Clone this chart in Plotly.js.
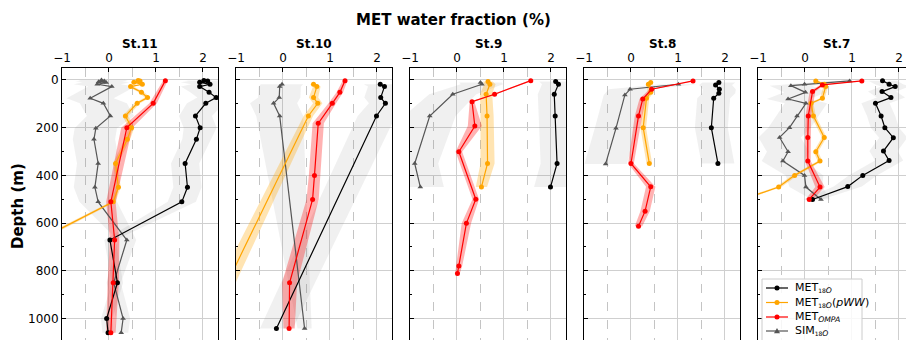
<!DOCTYPE html>
<html>
<head>
<meta charset="utf-8">
<script src="https://cdn.plot.ly/plotly-3.0.1.min.js"></script>
<style>
html,body{margin:0;padding:0;background:#fff;overflow:hidden;}
#chart{width:922px;height:350px;}
</style>
</head>
<body>
<div id="chart"></div>
<script>
// ---------- Data (depth in m, MET water fraction, envelope half-width) ----------
const stations = ["St.11", "St.10", "St.9", "St.8", "St.7"];

// St.11
const S11_MET_z = [2, 5, 10, 18, 28, 52, 74, 98, 151, 200, 249, 350, 450, 511, 671, 850, 1000, 1059];
const S11_MET_x = [2.02, 2.1, 1.93, 2.15, 1.93, 2.13, 2.28, 2.06, 1.84, 1.94, 1.86, 1.62, 1.67, 1.55, 0.02, 0.18, -0.05, -0.02];
const S11_MET_e = [0.4, 0.4, 0.4, 0.4, 0.4, 0.4, 0.4, 0.4, 0.35, 0.35, 0.3, 0.3, 0.3, 0.3, 0.12, 0.12, 0.12, 0.12];
const S11_PWW_z = [2, 5, 10, 18, 28, 52, 74, 98, 151, 200, 249, 350, 450, 511, 671];
const S11_PWW_x = [0.62, 0.66, 0.53, 0.71, 0.46, 0.69, 0.82, 0.6, 0.35, 0.48, 0.39, 0.14, 0.2, 0.09, -1.5];
const S11_PWW_e = [0.06, 0.06, 0.06, 0.06, 0.06, 0.06, 0.06, 0.06, 0.06, 0.06, 0.06, 0.05, 0.05, 0.05, 0.08];
const S11_OMP_z = [3, 98, 200, 511, 671, 850, 1059];
const S11_OMP_x = [1.2, 0.94, 0.38, 0.04, 0.12, 0.09, 0.04];
const S11_OMP_e = [0.05, 0.08, 0.12, 0.1, 0.1, 0.12, 0.1];
const S11_SIM_z = [0, 5, 8, 11, 18, 28, 77, 98, 151, 203, 249, 350, 450, 511, 671, 850, 1000, 1059];
const S11_SIM_x = [-0.16, -0.1, -0.22, -0.06, -0.25, 0.06, -0.4, -0.12, 0.03, -0.28, -0.32, -0.23, -0.3, -0.23, 0.38, 0.1, 0.3, 0.26];
const S11_SIM_e = [0.5, 0.5, 0.5, 0.5, 0.5, 0.5, 0.5, 0.5, 0.5, 0.45, 0.45, 0.45, 0.45, 0.4, 0.2, 0.15, 0.15, 0.15];

// St.10
const S10_MET_z = [18, 28, 74, 98, 151, 1042];
const S10_MET_x = [2.07, 2.16, 2.08, 2.18, 1.99, -0.14];
const S10_MET_e = [0.35, 0.35, 0.35, 0.35, 0.4, 0.35];
const S10_PWW_z = [18, 28, 74, 98, 151, 1042];
const S10_PWW_x = [0.65, 0.72, 0.65, 0.74, 0.54, -1.66];
const S10_PWW_e = [0.08, 0.08, 0.1, 0.1, 0.1, 0.2];
const S10_OMP_z = [3, 52, 98, 182, 400, 501, 850, 1042];
const S10_OMP_x = [1.32, 1.21, 1.05, 0.75, 0.67, 0.63, 0.14, 0.13];
const S10_OMP_e = [0.05, 0.07, 0.08, 0.12, 0.12, 0.13, 0.16, 0.12];
const S10_SIM_z = [18, 28, 74, 98, 151, 1042];
const S10_SIM_x = [-0.02, -0.07, -0.08, -0.2, -0.07, 0.46];
const S10_SIM_e = [0.45, 0.45, 0.45, 0.5, 0.5, 0.15];

// St.9
const S9_MET_z = [7, 18, 60, 151, 350, 449];
const S9_MET_x = [2.1, 2.16, 2.07, 2.09, 2.13, 1.99];
const S9_MET_e = [0.35, 0.35, 0.35, 0.35, 0.35, 0.35];
const S9_PWW_z = [7, 18, 60, 151, 350, 449];
const S9_PWW_x = [0.66, 0.7, 0.62, 0.64, 0.65, 0.52];
const S9_PWW_e = [0.1, 0.12, 0.13, 0.14, 0.15, 0.12];
const S9_OMP_z = [3, 60, 91, 193, 301, 500, 601, 780, 811];
const S9_OMP_x = [1.57, 0.8, 0.32, 0.38, 0.04, 0.4, 0.2, 0.04, 0.01];
const S9_OMP_e = [0.03, 0.04, 0.05, 0.15, 0.07, 0.07, 0.1, 0.07, 0.05];
const S9_SIM_z = [11, 18, 60, 151, 350, 449];
const S9_SIM_x = [0.5, 0.53, -0.09, -0.58, -0.9, -0.78];
const S9_SIM_e = [0.45, 0.45, 0.5, 0.55, 0.5, 0.5];

// St.8
const S8_MET_z = [11, 21, 39, 56, 77, 200, 350];
const S8_MET_x = [1.87, 1.8, 1.88, 1.87, 1.76, 1.71, 1.85];
const S8_MET_e = [0.35, 0.35, 0.35, 0.35, 0.35, 0.35, 0.35];
const S8_PWW_z = [11, 18, 52, 77, 200, 350];
const S8_PWW_x = [0.42, 0.37, 0.42, 0.33, 0.26, 0.39];
const S8_PWW_e = [0.05, 0.05, 0.06, 0.06, 0.06, 0.06];
const S8_OMP_z = [4, 39, 80, 151, 350, 448, 550, 613];
const S8_OMP_x = [1.32, 0.44, 0.25, 0.16, 0.0, 0.42, 0.3, 0.16];
const S8_OMP_e = [0.03, 0.05, 0.07, 0.08, 0.06, 0.1, 0.1, 0.08];
const S8_SIM_z = [18, 39, 63, 203, 352];
const S8_SIM_x = [1.01, -0.02, -0.13, -0.32, -0.54];
const S8_SIM_e = [0.4, 0.45, 0.45, 0.45, 0.45];

// St.7
const S7_MET_z = [3, 18, 28, 49, 74, 98, 151, 200, 242, 298, 338, 400, 447, 501];
const S7_MET_x = [1.65, 1.79, 1.92, 1.64, 1.83, 1.5, 1.62, 1.7, 1.88, 1.67, 1.79, 1.23, 0.91, 0.16];
const S7_MET_e = [0.3, 0.3, 0.3, 0.3, 0.3, 0.3, 0.3, 0.3, 0.3, 0.3, 0.3, 0.3, 0.3, 0.2];
const S7_PWW_z = [4, 18, 28, 77, 98, 151, 241, 301, 340, 400, 449, 501];
const S7_PWW_x = [0.23, 0.41, 0.44, 0.37, 0.13, 0.18, 0.41, 0.23, 0.32, -0.22, -0.56, -1.33];
const S7_PWW_e = [0.05, 0.05, 0.05, 0.05, 0.05, 0.05, 0.05, 0.05, 0.05, 0.06, 0.06, 0.07];
const S7_OMP_z = [4, 21, 49, 151, 241, 340, 449, 501];
const S7_OMP_x = [1.21, 0.37, 0.16, 0.07, 0.06, 0.06, 0.32, 0.09];
const S7_OMP_e = [0.03, 0.05, 0.06, 0.06, 0.06, 0.06, 0.1, 0.08];
const S7_SIM_z = [4, 18, 24, 52, 80, 98, 151, 200, 241, 301, 340, 400, 449, 501];
const S7_SIM_x = [0.95, -0.01, -0.3, 0.01, -0.36, 0.02, -0.17, -0.33, -0.54, -0.36, -0.47, -0.01, 0.02, 0.34];
const S7_SIM_e = [0.45, 0.45, 0.45, 0.45, 0.45, 0.45, 0.45, 0.45, 0.45, 0.45, 0.45, 0.4, 0.35, 0.2];

const xTicks = [-1, 0, 1, 2];
const yTicks = [0, 200, 400, 600, 800, 1000];

const seriesNames = {
  MET: 'MET<sub><span style="font-size:6px">18</span><i>O</i></sub>',
  PWW: 'MET<sub><span style="font-size:6px">18</span><i>O</i></sub>(<i>pWW</i>)',
  OMP: 'MET<sub><i>OMPA</i></sub>',
  SIM: 'SIM<sub><span style="font-size:6px">18</span><i>O</i></sub>'
};
const legendOrder = ['MET', 'PWW', 'OMP', 'SIM'];

// ---------- Build ----------
const stationData = [
  {MET:[S11_MET_z,S11_MET_x,S11_MET_e], PWW:[S11_PWW_z,S11_PWW_x,S11_PWW_e], OMP:[S11_OMP_z,S11_OMP_x,S11_OMP_e], SIM:[S11_SIM_z,S11_SIM_x,S11_SIM_e]},
  {MET:[S10_MET_z,S10_MET_x,S10_MET_e], PWW:[S10_PWW_z,S10_PWW_x,S10_PWW_e], OMP:[S10_OMP_z,S10_OMP_x,S10_OMP_e], SIM:[S10_SIM_z,S10_SIM_x,S10_SIM_e]},
  {MET:[S9_MET_z,S9_MET_x,S9_MET_e], PWW:[S9_PWW_z,S9_PWW_x,S9_PWW_e], OMP:[S9_OMP_z,S9_OMP_x,S9_OMP_e], SIM:[S9_SIM_z,S9_SIM_x,S9_SIM_e]},
  {MET:[S8_MET_z,S8_MET_x,S8_MET_e], PWW:[S8_PWW_z,S8_PWW_x,S8_PWW_e], OMP:[S8_OMP_z,S8_OMP_x,S8_OMP_e], SIM:[S8_SIM_z,S8_SIM_x,S8_SIM_e]},
  {MET:[S7_MET_z,S7_MET_x,S7_MET_e], PWW:[S7_PWW_z,S7_PWW_x,S7_PWW_e], OMP:[S7_OMP_z,S7_OMP_x,S7_OMP_e], SIM:[S7_SIM_z,S7_SIM_x,S7_SIM_e]}
];

const style = {
  SIM: {line:'#555555', fill:'rgba(128,128,128,0.12)', symbol:'triangle-up', size:5},
  MET: {line:'#000000', fill:'rgba(128,128,128,0.12)', symbol:'circle', size:5},
  PWW: {line:'#FFA500', fill:'rgba(255,165,0,0.3)', symbol:'circle', size:5},
  OMP: {line:'#FF0000', fill:'rgba(255,0,0,0.3)', symbol:'circle', size:5}
};
const order = ['SIM', 'MET', 'PWW', 'OMP'];

const traces = [];
stationData.forEach((sd, i) => {
  const xa = 'x' + (i === 0 ? '' : i + 1);
  const ya = 'y' + (i === 0 ? '' : i + 1);
  order.forEach(k => {
    const [z, x, e] = sd[k];
    const lo = x.map((v, j) => v - e[j]);
    const hi = x.map((v, j) => v + e[j]);
    traces.push({
      type: 'scatter', mode: 'lines', xaxis: xa, yaxis: ya,
      x: lo.concat(hi.slice().reverse()),
      y: z.concat(z.slice().reverse()),
      fill: 'toself', fillcolor: style[k].fill,
      line: {width: 0, color: 'rgba(0,0,0,0)'},
      hoverinfo: 'skip', showlegend: false
    });
  });
  order.forEach(k => {
    const [z, x] = sd[k];
    traces.push({
      type: 'scatter', mode: 'lines+markers', xaxis: xa, yaxis: ya,
      x: x, y: z, name: seriesNames[k],
      line: {color: style[k].line, width: 1.2},
      marker: {color: style[k].line, symbol: style[k].symbol, size: style[k].size},
      showlegend: false
    });
  });
});

const W = 852, H = 278, PW = 156, GAP = 18, ML = 62, MT = 68;
const px = v => (v - ML) / W;            // pixel x -> paper x
const py = v => (MT + H - v) / H;        // pixel y -> paper y

const layout = {
  width: 922, height: 350,
  margin: {l: ML, r: 8, t: MT, b: 4, autoexpand: false},
  paper_bgcolor: '#fff', plot_bgcolor: '#fff',
  font: {family: 'DejaVu Sans', size: 12, color: '#000'},
  showlegend: false,
  shapes: [],
  annotations: [
    {text: '<b>MET water fraction (%)</b>', xref: 'paper', yref: 'paper',
     x: px(453), y: py(20), xanchor: 'center', yanchor: 'middle',
     showarrow: false, font: {size: 15}},
    {text: '<b>Depth (m)</b>', xref: 'paper', yref: 'paper', textangle: -90,
     x: px(18), y: py(206), xanchor: 'center', yanchor: 'middle',
     showarrow: false, font: {size: 15}}
  ]
};

stations.forEach((s, i) => {
  const d0 = i * (PW + GAP) / W, d1 = (i * (PW + GAP) + PW) / W;
  const sfx = i === 0 ? '' : String(i + 1);
  layout['xaxis' + sfx] = {
    domain: [d0, d1], range: [-1, 2.32], side: 'top', anchor: 'y' + sfx,
    tickmode: 'array', tickvals: xTicks, ticks: 'inside', ticklen: 4, tickcolor: '#000',
    showline: true, linecolor: '#000', linewidth: 1, mirror: true,
    showgrid: true, gridcolor: '#cfcfcf', gridwidth: 1, zeroline: false,
    minor: {tickmode: 'array', tickvals: [-0.5, 0.5, 1.5], showgrid: true, griddash: 'dash', gridcolor: '#b5b5b5', gridwidth: 0.8, ticks: ''},
    tickfont: {size: 12}, fixedrange: true
  };
  layout['yaxis' + sfx] = {
    domain: [0, 1], range: [1115, -50], anchor: 'x' + sfx,
    tickmode: 'array', tickvals: yTicks, ticks: 'inside', ticklen: 4, tickcolor: '#000',
    showticklabels: i === 0,
    showline: true, linecolor: '#000', linewidth: 1, mirror: true,
    showgrid: true, gridcolor: '#cfcfcf', gridwidth: 1, zeroline: false,
    minor: {tickmode: 'array', tickvals: [100, 300, 500, 700, 900, 1100], ticks: 'inside', ticklen: 2, tickcolor: '#000', showgrid: false},
    tickfont: {size: 12}, fixedrange: true
  };
  layout.annotations.push({
    text: '<b>' + s + '</b>', xref: 'paper', yref: 'paper',
    x: (d0 + d1) / 2, y: py(44), xanchor: 'center', yanchor: 'middle',
    showarrow: false, font: {size: 12}
  });
});

// ---------- Legend (drawn as decoration inside St.7 panel) ----------
const LG = {x0: 762, y0: 279, x1: 862, y1: 350, rowY: [288, 302.5, 317, 331], lx0: 766, lx1: 788, tx: 793};
layout.shapes.push({type: 'rect', xref: 'paper', yref: 'paper',
  x0: px(LG.x0), x1: px(LG.x1), y0: py(LG.y0), y1: py(LG.y1),
  fillcolor: 'rgba(255,255,255,0.85)', line: {color: '#cccccc', width: 1}, layer: 'above'});
legendOrder.forEach((k, r) => {
  const yy = LG.rowY[r];
  const c = style[k].line;
  layout.shapes.push({type: 'line', xref: 'paper', yref: 'paper',
    x0: px(LG.lx0), x1: px(LG.lx1), y0: py(yy), y1: py(yy),
    line: {color: c, width: 1.2}, layer: 'above'});
  const mx = (LG.lx0 + LG.lx1) / 2;
  if (style[k].symbol === 'circle') {
    layout.shapes.push({type: 'circle', xref: 'paper', yref: 'paper',
      x0: px(mx - 2.5), x1: px(mx + 2.5), y0: py(yy + 2.5), y1: py(yy - 2.5),
      fillcolor: c, line: {color: c, width: 0}, layer: 'above'});
  } else {
    const p = `M ${px(mx)} ${py(yy - 3)} L ${px(mx + 3)} ${py(yy + 2.2)} L ${px(mx - 3)} ${py(yy + 2.2)} Z`;
    layout.shapes.push({type: 'path', xref: 'paper', yref: 'paper', path: p,
      fillcolor: c, line: {color: c, width: 0}, layer: 'above'});
  }
  layout.annotations.push({text: seriesNames[k], xref: 'paper', yref: 'paper',
    x: px(LG.tx), y: py(yy), xanchor: 'left', yanchor: 'middle', showarrow: false,
    font: {size: 11}});
});

Plotly.newPlot('chart', traces, layout, {displayModeBar: false, staticPlot: true});
</script>
</body>
</html>
